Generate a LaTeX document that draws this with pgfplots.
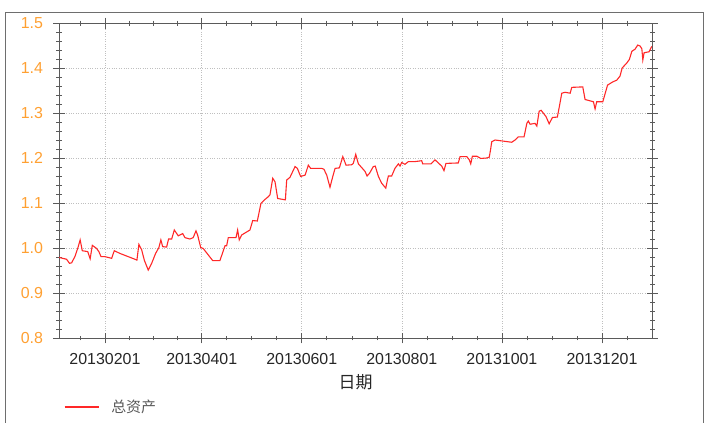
\documentclass[border=0pt]{standalone}
\usepackage{pgfplots}
\pgfplotsset{compat=1.18}
\usepackage{fontspec}
\setmainfont{Liberation Sans}
\newfontfamily\cjk{Noto Sans CJK SC}

\definecolor{lineRed}{RGB}{255,40,40}
\definecolor{tickOrange}{RGB}{255,160,50}
\definecolor{axGray}{RGB}{90,90,90}
\definecolor{frameGray}{RGB}{110,110,110}

\begin{document}
\begin{tikzpicture}
  \path[use as bounding box] (0,0) rectangle (705bp,423bp);
  \draw[frameGray, line width=0.9bp] (5.5bp,-10bp) rectangle (703bp,411bp);
  \begin{axis}[
    at={(59bp,85bp)}, anchor=south west,
    scale only axis, width=593bp, height=315bp,
    xmin=3, xmax=364.5, ymin=0.8, ymax=1.5,
    xtick={31,90,151,212,273,334},
    xticklabels={20130201,20130401,20130601,20130801,20131001,20131201},
    minor xtick={16.25,45.75,60.5,75.25,105.25,120.5,135.75,166.25,181.5,196.75,
                 227.25,242.5,257.75,288.25,303.5,318.75,349.25},
    ytick={0.8,0.9,1.0,1.1,1.2,1.3,1.4,1.5},
    minor y tick num=4,
    yticklabel style={/pgf/number format/fixed, /pgf/number format/fixed zerofill,
                      /pgf/number format/precision=1},
    /pgf/number format/assume math mode=true,
    tick align=center, tick pos=both,
    major tick length=11bp, minor tick length=5bp,
    every tick/.style={axGray, line width=0.6bp},
    axis line style={axGray, line width=0.8bp},
    xmajorgrids, ymajorgrids,
    major grid style={gray!50, dotted, line width=0.6bp},
    tick label style={font=\fontsize{16}{19}\selectfont},
    xticklabel style={text=black!85, yshift=-6bp},
    yticklabel style={text=tickOrange, xshift=-7bp},
    xlabel={\cjk 日期},
    xlabel style={font=\fontsize{17}{20}\selectfont, text=black!85, at={(axis description cs:0.5,-0.1397)}, anchor=center},
    legend style={at={(axis description cs:0.0,-0.219)}, anchor=west, xshift=2bp, draw=none, fill=none,
                  font=\fontsize{15}{18}\selectfont, text=black!65},
    legend image code/.code={\draw[#1] (0bp,0bp) -- (34bp,0bp);},
  ]
  \addplot[lineRed, line width=1.1bp] coordinates {
    (3.1,0.979) (7.6,0.975) (9.4,0.966) (10.7,0.967) (12.7,0.981) (14.4,0.999)
    (15.9,1.018) (17.2,0.994) (20.5,0.992) (22.0,0.976) (23.3,1.006) (25.9,0.999)
    (27.3,0.992) (28.6,0.981) (30.6,0.981) (33.0,0.979) (35.1,0.977) (36.7,0.994)
    (40.1,0.988) (49.3,0.975) (50.5,0.973) (51.7,1.008) (53.4,0.996) (55.0,0.973)
    (57.4,0.951) (59.5,0.966) (61.9,0.988) (63.9,1.001) (65.1,1.018) (66.2,1.003)
    (68.6,1.002) (69.8,1.020) (71.7,1.020) (73.3,1.040) (75.7,1.027) (78.4,1.032)
    (79.8,1.023) (82.8,1.020) (84.8,1.023) (86.5,1.038) (87.5,1.029) (89.4,1.001)
    (90.9,0.999) (96.7,0.972) (101.1,0.972) (104.2,1.005) (105.2,1.005) (106.2,1.023)
    (110.9,1.023) (111.9,1.040) (112.9,1.018) (114.4,1.029) (119.4,1.040) (121.1,1.061)
    (123.9,1.060) (126.1,1.099) (128.6,1.108) (130.6,1.114) (131.6,1.118) (133.3,1.155)
    (134.7,1.147) (136.3,1.110) (141.0,1.107) (141.8,1.151) (143.8,1.157) (146.9,1.181)
    (148.3,1.177) (150.3,1.159) (153.0,1.162) (155.0,1.184) (156.4,1.177) (163.1,1.177)
    (164.5,1.175) (166.2,1.162) (168.2,1.135) (169.9,1.159) (171.3,1.177) (173.9,1.178)
    (176.0,1.203) (178.0,1.184) (181.4,1.185) (182.4,1.188) (183.9,1.208) (185.5,1.187)
    (187.7,1.178) (189.6,1.170) (190.8,1.160) (192.3,1.166) (194.6,1.181) (195.8,1.182)
    (197.7,1.159) (199.7,1.144) (202.2,1.133) (203.2,1.151) (203.8,1.160) (205.8,1.160)
    (207.8,1.177) (209.9,1.187) (210.9,1.182) (211.9,1.190) (213.9,1.186) (216.0,1.192)
    (220.0,1.192) (224.1,1.194) (224.7,1.187) (229.8,1.187) (232.2,1.196) (236.3,1.182)
    (237.7,1.172) (238.9,1.188) (246.4,1.189) (247.5,1.203) (251.6,1.203) (253.1,1.196)
    (254.0,1.187) (255.0,1.204) (257.7,1.204) (260.1,1.199) (263.8,1.200) (265.3,1.202)
    (266.1,1.219) (266.8,1.236) (268.8,1.240) (279.0,1.235) (281.0,1.240) (283.0,1.247)
    (286.5,1.247) (288.2,1.277) (289.1,1.282) (290.2,1.275) (293.2,1.277) (294.3,1.271)
    (295.7,1.304) (296.9,1.306) (299.9,1.292) (301.8,1.276) (303.8,1.290) (306.8,1.291)
    (308.0,1.314) (309.5,1.344) (311.5,1.346) (314.6,1.344) (315.6,1.357) (322.3,1.358)
    (323.7,1.330) (328.8,1.325) (329.8,1.309) (330.8,1.325) (334.5,1.325) (337.4,1.362)
    (340.5,1.369) (343.0,1.373) (345.0,1.382) (346.3,1.400) (349.1,1.411) (350.7,1.419)
    (352.2,1.437) (354.2,1.442) (355.8,1.451) (357.2,1.449) (358.3,1.443) (358.9,1.418)
    (359.7,1.434) (362.7,1.436) (364.3,1.448)
  };
  \addlegendentry{\hspace{10bp}\cjk 总资产}
  \end{axis}
\end{tikzpicture}
\end{document}
